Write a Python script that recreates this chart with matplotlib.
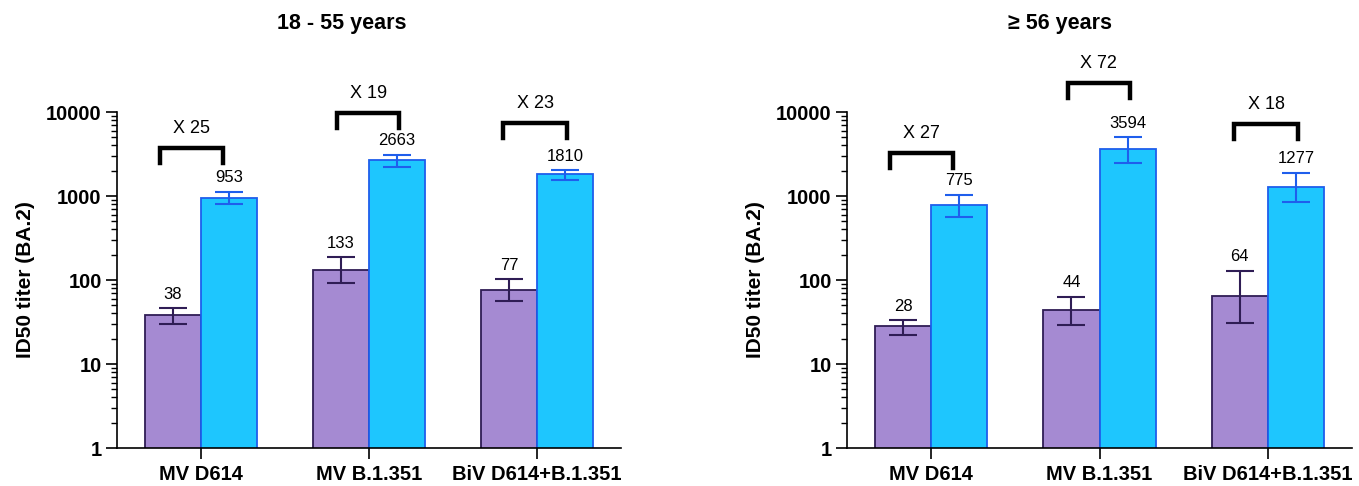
import numpy as np
import matplotlib.pyplot as plt
from matplotlib.ticker import LogLocator, NullFormatter, FixedFormatter, FixedLocator

plt.rcParams['font.family'] = ['Liberation Sans', 'DejaVu Sans']

# data
groups = ['MV D614', 'MV B.1.351', 'BiV D614+B.1.351']
titles = ['18 - 55 years', '\u2265 56 years']

# 18 - 55 years
young_purple = [38, 133, 77]
young_purple_lo = [29.7, 93, 56]
young_purple_hi = [46.4, 188, 102]
young_blue = [953, 2663, 1810]
young_blue_lo = [795, 2214, 1564]
young_blue_hi = [1120, 3105, 2040]
young_fold = ['X 25', 'X 19', 'X 23']
young_fold_y = [3728, 9730, 7330]

# >= 56 years
old_purple = [28, 44, 64]
old_purple_lo = [22.4, 29.5, 30.6]
old_purple_hi = [33.2, 63.6, 128.6]
old_blue = [775, 3594, 1277]
old_blue_lo = [566, 2467, 839]
old_blue_hi = [1035, 5036, 1892]
old_fold = ['X 27', 'X 72', 'X 18']
old_fold_y = [3224, 22150, 7200]

purple_fill = '#a58ad2'
purple_edge = '#2f1d55'
blue_fill = '#1ec6fe'
blue_edge = '#1f5eec'

W, H = 1359, 486
fig = plt.figure(figsize=(W / 100, H / 100), dpi=100)

panels = [
    (117, 621, 342, young_purple, young_purple_lo, young_purple_hi,
     young_blue, young_blue_lo, young_blue_hi, young_fold, young_fold_y),
    (847, 1352, 1060, old_purple, old_purple_lo, old_purple_hi,
     old_blue, old_blue_lo, old_blue_hi, old_fold, old_fold_y),
]

bw = 0.333
x = np.arange(len(groups))
# bracket horizontal extents relative to the group centre
br_left = [-0.245, -0.19, -0.2]
br_right = [0.13, 0.18, 0.18]

for i, (x0, x1, tx, pv, plo, phi, bv, blo, bhi, fold, fold_y) in enumerate(panels):
    ax = fig.add_axes([x0 / W, 1 - 448 / H, (x1 - x0) / W, (448 - 112) / H])
    ax.set_yscale('log')

    pv = np.array(pv); bv = np.array(bv)
    perr = [pv - np.array(plo), np.array(phi) - pv]
    berr = [bv - np.array(blo), np.array(bhi) - bv]

    ax.bar(x - bw / 2, pv, bw, color=purple_fill, edgecolor=purple_edge, linewidth=1.3, zorder=2)
    ax.bar(x + bw / 2, bv, bw, color=blue_fill, edgecolor=blue_edge, linewidth=1.3, zorder=2)
    ax.errorbar(x - bw / 2, pv, yerr=perr, fmt='none', ecolor=purple_edge,
                elinewidth=1.5, capsize=10, capthick=1.5, zorder=3)
    ax.errorbar(x + bw / 2, bv, yerr=berr, fmt='none', ecolor=blue_edge,
                elinewidth=1.5, capsize=10, capthick=1.5, zorder=3)

    for xi, v, hi in zip(x - bw / 2, pv, phi):
        ax.annotate(str(v), (xi, hi), xytext=(0, 10), textcoords='offset points',
                    ha='center', va='center', fontsize=12)
    for xi, v, hi in zip(x + bw / 2, bv, bhi):
        ax.annotate(str(v), (xi, hi), xytext=(0, 10), textcoords='offset points',
                    ha='center', va='center', fontsize=12)

    # fold-change brackets
    for j, (lab, top) in enumerate(zip(fold, fold_y)):
        xl = x[j] + br_left[j]
        xr = x[j] + br_right[j]
        leg = top * 10 ** -0.18
        ax.plot([xl, xl, xr, xr], [leg, top, top, leg], color='black', lw=3.2,
                solid_joinstyle='miter', clip_on=False, zorder=4)
        ax.annotate(lab, ((xl + xr) / 2, top), xytext=(0, 14), textcoords='offset points',
                    ha='center', va='center', fontsize=13, annotation_clip=False)

    ax.set_xlim(-0.5, 2.5)
    ax.set_ylim(1, 10000)
    ax.set_xticks(x)
    ax.set_xticklabels(groups, fontsize=14.5, fontweight='bold')
    ax.yaxis.set_major_locator(FixedLocator([1, 10, 100, 1000, 10000]))
    ax.yaxis.set_major_formatter(FixedFormatter(['1', '10', '100', '1000', '10000']))
    ax.yaxis.set_minor_locator(LogLocator(base=10, subs=np.arange(2, 10)))
    ax.yaxis.set_minor_formatter(NullFormatter())
    for lab in ax.get_yticklabels():
        lab.set_fontweight('bold')
        lab.set_fontsize(14.5)
    ax.tick_params(axis='y', which='major', length=8, width=1.2, pad=3)
    ax.tick_params(axis='y', which='minor', length=4.3, width=1.0)
    ax.tick_params(axis='x', which='major', length=8, width=1.2, pad=4)
    ax.spines['top'].set_visible(False)
    ax.spines['right'].set_visible(False)
    ax.spines['left'].set_linewidth(1.2)
    ax.spines['bottom'].set_linewidth(1.2)
    ax.set_ylabel('ID50 titer (BA.2)', fontsize=15, fontweight='bold', labelpad=8)

    fig.text(tx / W, 1 - 23 / H, titles[i], ha='center', va='center',
             fontsize=15.5, fontweight='bold')

fig.savefig('out.png', dpi=100)
